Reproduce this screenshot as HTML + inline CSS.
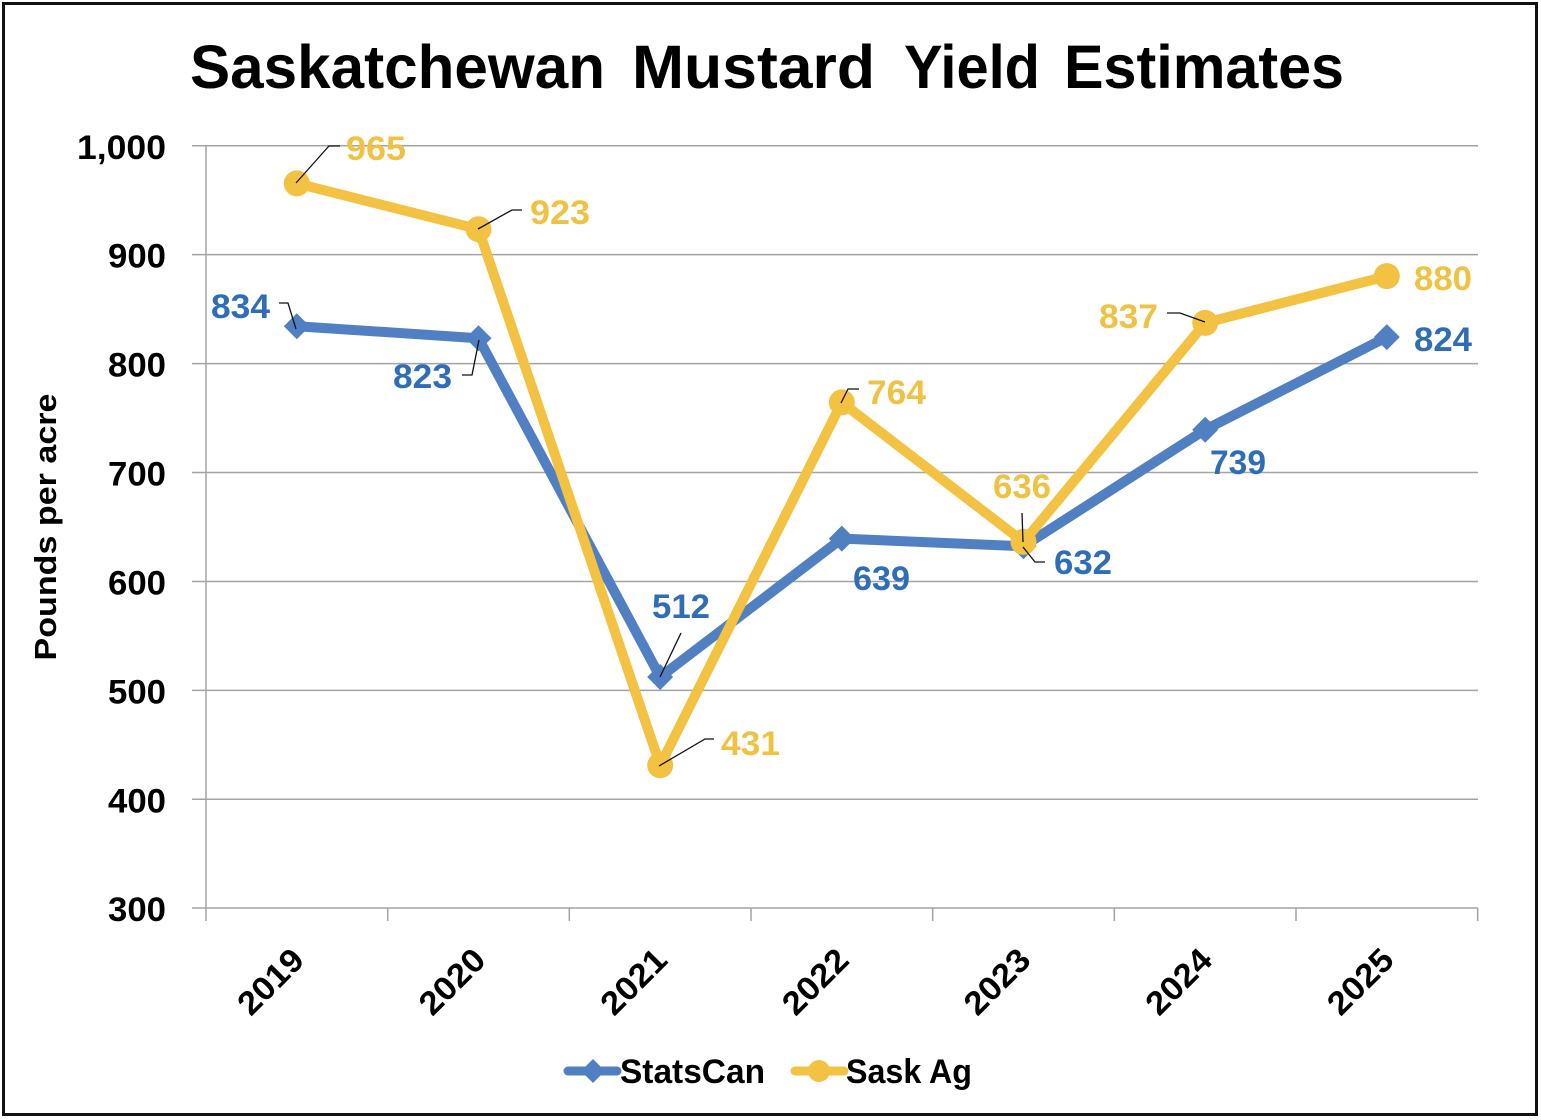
<!DOCTYPE html>
<html>
<head>
<meta charset="utf-8">
<style>
  html,body{margin:0;padding:0;background:#fff;}
  svg{display:block;}
  text{font-family:"Liberation Sans",sans-serif;font-weight:bold;}
</style>
</head>
<body>
<svg width="1541" height="1120" viewBox="0 0 1541 1120" xmlns="http://www.w3.org/2000/svg">
  <rect x="0" y="0" width="1541" height="1120" fill="#fff"/>
  <rect x="3.5" y="3.5" width="1533" height="1111" fill="none" stroke="#111" stroke-width="3"/>

  <!-- Title -->
  <g fill="#000" font-size="61">
    <text x="190" y="88" textLength="415" lengthAdjust="spacingAndGlyphs">Saskatchewan</text>
    <text x="632" y="88" textLength="243" lengthAdjust="spacingAndGlyphs">Mustard</text>
    <text x="904" y="88" textLength="136" lengthAdjust="spacingAndGlyphs">Yield</text>
    <text x="1064" y="88" textLength="280" lengthAdjust="spacingAndGlyphs">Estimates</text>
  </g>

  <!-- Gridlines -->
  <g stroke="#a3a3a3" stroke-width="1.5">
    <line x1="192" y1="145.7" x2="1478" y2="145.7"/>
    <line x1="192" y1="254.6" x2="1478" y2="254.6"/>
    <line x1="192" y1="363.6" x2="1478" y2="363.6"/>
    <line x1="192" y1="472.5" x2="1478" y2="472.5"/>
    <line x1="192" y1="581.5" x2="1478" y2="581.5"/>
    <line x1="192" y1="690.4" x2="1478" y2="690.4"/>
    <line x1="192" y1="799.3" x2="1478" y2="799.3"/>
    <line x1="192" y1="908" x2="1478" y2="908"/>
    <line x1="206" y1="145.7" x2="206" y2="921"/>
    <line x1="387.7" y1="908" x2="387.7" y2="921"/>
    <line x1="569.3" y1="908" x2="569.3" y2="921"/>
    <line x1="751" y1="908" x2="751" y2="921"/>
    <line x1="932.7" y1="908" x2="932.7" y2="921"/>
    <line x1="1114.3" y1="908" x2="1114.3" y2="921"/>
    <line x1="1296" y1="908" x2="1296" y2="921"/>
    <line x1="1477.7" y1="908" x2="1477.7" y2="921"/>
  </g>

  <!-- Y tick labels -->
  <g fill="#000" font-size="34" text-anchor="end">
    <text x="166" y="159" textLength="89" lengthAdjust="spacingAndGlyphs">1,000</text>
    <text x="166" y="267.6" textLength="58" lengthAdjust="spacingAndGlyphs">900</text>
    <text x="166" y="376.6" textLength="58" lengthAdjust="spacingAndGlyphs">800</text>
    <text x="166" y="485.5" textLength="58" lengthAdjust="spacingAndGlyphs">700</text>
    <text x="166" y="594.5" textLength="58" lengthAdjust="spacingAndGlyphs">600</text>
    <text x="166" y="703.4" textLength="58" lengthAdjust="spacingAndGlyphs">500</text>
    <text x="166" y="812.3" textLength="58" lengthAdjust="spacingAndGlyphs">400</text>
    <text x="166" y="921" textLength="58" lengthAdjust="spacingAndGlyphs">300</text>
  </g>

  <!-- Y axis title -->
  <text transform="translate(56,527) rotate(-90)" text-anchor="middle" font-size="31" fill="#000" textLength="267" lengthAdjust="spacingAndGlyphs">Pounds per acre</text>

  <!-- X labels -->
  <g fill="#000" font-size="33" text-anchor="end">
    <text transform="translate(306,962) rotate(-45)" textLength="78" lengthAdjust="spacingAndGlyphs">2019</text>
    <text transform="translate(487.5,962) rotate(-45)" textLength="78" lengthAdjust="spacingAndGlyphs">2020</text>
    <text transform="translate(669.2,962) rotate(-45)" textLength="78" lengthAdjust="spacingAndGlyphs">2021</text>
    <text transform="translate(850.8,962) rotate(-45)" textLength="78" lengthAdjust="spacingAndGlyphs">2022</text>
    <text transform="translate(1032.5,962) rotate(-45)" textLength="78" lengthAdjust="spacingAndGlyphs">2023</text>
    <text transform="translate(1214.2,962) rotate(-45)" textLength="78" lengthAdjust="spacingAndGlyphs">2024</text>
    <text transform="translate(1395.8,962) rotate(-45)" textLength="78" lengthAdjust="spacingAndGlyphs">2025</text>
  </g>

  <!-- StatsCan series -->
  <polyline fill="none" stroke="#5080C2" stroke-width="10" stroke-linejoin="round"
    points="296.8,326.2 478.5,338.2 660.2,677 841.8,538.6 1023.5,546.3 1205.2,429.7 1386.8,337.1"/>
  <g fill="#5080C2">
    <path d="M296.8,313.2 L309.8,326.2 L296.8,339.2 L283.8,326.2 Z"/>
    <path d="M478.5,325.2 L491.5,338.2 L478.5,351.2 L465.5,338.2 Z"/>
    <path d="M660.2,664 L673.2,677 L660.2,690 L647.2,677 Z"/>
    <path d="M841.8,525.6 L854.8,538.6 L841.8,551.6 L828.8,538.6 Z"/>
    <path d="M1023.5,533.3 L1036.5,546.3 L1023.5,559.3 L1010.5,546.3 Z"/>
    <path d="M1205.2,416.7 L1218.2,429.7 L1205.2,442.7 L1192.2,429.7 Z"/>
    <path d="M1386.8,324.1 L1399.8,337.1 L1386.8,350.1 L1373.8,337.1 Z"/>
  </g>

  <!-- Sask Ag series -->
  <polyline fill="none" stroke="#F3C242" stroke-width="10" stroke-linejoin="round"
    points="296.8,183.4 478.5,229.2 660.2,765.3 841.8,402.4 1023.5,541.9 1205.2,322.9 1386.8,276.1"/>
  <g fill="#F3C242">
    <circle cx="296.8" cy="183.4" r="13"/>
    <circle cx="478.5" cy="229.2" r="13"/>
    <circle cx="660.2" cy="765.3" r="13"/>
    <circle cx="841.8" cy="402.4" r="13"/>
    <circle cx="1023.5" cy="541.9" r="13"/>
    <circle cx="1205.2" cy="322.9" r="13"/>
    <circle cx="1386.8" cy="276.1" r="13"/>
  </g>

  <!-- Leader lines -->
  <g fill="none" stroke="#111" stroke-width="1.3">
    <polyline points="296,183 329,146 340,146"/>
    <polyline points="478,229 512,210 522,210"/>
    <polyline points="279,303 288,303 296,329"/>
    <polyline points="462,375 472,375 479,340"/>
    <polyline points="681,633 660,677"/>
    <polyline points="659,766 705,739 714,739"/>
    <polyline points="841,403 848,389 859,389"/>
    <polyline points="1022,513 1023,542"/>
    <polyline points="1023,547 1035,562 1045,562"/>
    <polyline points="1167,313 1180,313 1205,322"/>
  </g>

  <!-- Data labels -->
  <g font-size="34" fill="#EFC244">
    <text x="346" y="160" textLength="60" lengthAdjust="spacingAndGlyphs">965</text>
    <text x="530" y="224" textLength="60" lengthAdjust="spacingAndGlyphs">923</text>
    <text x="721" y="755" textLength="59" lengthAdjust="spacingAndGlyphs">431</text>
    <text x="867" y="404" textLength="59" lengthAdjust="spacingAndGlyphs">764</text>
    <text x="993" y="498" textLength="58" lengthAdjust="spacingAndGlyphs">636</text>
    <text x="1099" y="328" textLength="59" lengthAdjust="spacingAndGlyphs">837</text>
    <text x="1414" y="290" textLength="58" lengthAdjust="spacingAndGlyphs">880</text>
  </g>
  <g font-size="34" fill="#2F6EB6">
    <text x="211" y="318" textLength="59" lengthAdjust="spacingAndGlyphs">834</text>
    <text x="393" y="388" textLength="59" lengthAdjust="spacingAndGlyphs">823</text>
    <text x="652" y="618" textLength="58" lengthAdjust="spacingAndGlyphs">512</text>
    <text x="853" y="590" textLength="57" lengthAdjust="spacingAndGlyphs">639</text>
    <text x="1054" y="574" textLength="58" lengthAdjust="spacingAndGlyphs">632</text>
    <text x="1210" y="474" textLength="56" lengthAdjust="spacingAndGlyphs">739</text>
    <text x="1414" y="351" textLength="58" lengthAdjust="spacingAndGlyphs">824</text>
  </g>

  <!-- Legend -->
  <line x1="568" y1="1071" x2="617" y2="1071" stroke="#5080C2" stroke-width="9" stroke-linecap="round"/>
  <path d="M593,1059 L605,1071 L593,1083 L581,1071 Z" fill="#5080C2"/>
  <text x="620" y="1083" font-size="34" fill="#000" textLength="145" lengthAdjust="spacingAndGlyphs">StatsCan</text>
  <line x1="795" y1="1071" x2="844" y2="1071" stroke="#F3C242" stroke-width="9" stroke-linecap="round"/>
  <circle cx="819" cy="1071" r="11" fill="#F3C242"/>
  <text x="846" y="1083" font-size="34" fill="#000" textLength="126" lengthAdjust="spacingAndGlyphs">Sask Ag</text>
</svg>
</body>
</html>
